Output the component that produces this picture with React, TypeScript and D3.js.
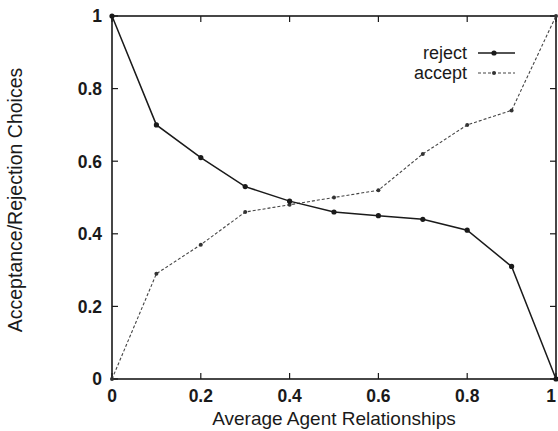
import { useEffect, useRef } from "react";
import * as d3 from "d3";

const xValues = [0, 0.1, 0.2, 0.3, 0.4, 0.5, 0.6, 0.7, 0.8, 0.9, 1];
const rejectValues = [1, 0.7, 0.61, 0.53, 0.49, 0.46, 0.45, 0.44, 0.41, 0.31, 0];
const acceptValues = [0, 0.29, 0.37, 0.46, 0.48, 0.5, 0.52, 0.62, 0.7, 0.74, 1];
const tickValues = [0, 0.2, 0.4, 0.6, 0.8, 1];
const tickLabels = ["0", "0.2", "0.4", "0.6", "0.8", "1"];

export default function App() {
    const ref = useRef<SVGSVGElement | null>(null);

    useEffect(() => {
        if (!ref.current) return;
        const width = 558;
        const height = 431;
        const left = 112, right = 556, top = 16, bottom = 379;

        const svg = d3.select(ref.current);
        svg.selectAll("*").remove();
        svg.attr("width", width).attr("height", height)
            .style("font-family", "'Liberation Sans', Arial, sans-serif");

        svg.append("rect").attr("width", width).attr("height", height).attr("fill", "#fff");

        const x = d3.scaleLinear().domain([0, 1]).range([left, right]);
        const y = d3.scaleLinear().domain([0, 1]).range([bottom, top]);
        const ink = "#1a1a1a";

        // frame
        svg.append("rect")
            .attr("x", left).attr("y", top)
            .attr("width", right - left).attr("height", bottom - top)
            .attr("fill", "none").attr("stroke", ink).attr("stroke-width", 1.6);

        // inward ticks on all four sides
        const tickLen = 6;
        tickValues.forEach((t) => {
            svg.append("line").attr("x1", x(t)).attr("x2", x(t)).attr("y1", bottom).attr("y2", bottom - tickLen)
                .attr("stroke", ink).attr("stroke-width", 1.2);
            svg.append("line").attr("x1", x(t)).attr("x2", x(t)).attr("y1", top).attr("y2", top + tickLen)
                .attr("stroke", ink).attr("stroke-width", 1.2);
            svg.append("line").attr("y1", y(t)).attr("y2", y(t)).attr("x1", left).attr("x2", left + tickLen)
                .attr("stroke", ink).attr("stroke-width", 1.2);
            svg.append("line").attr("y1", y(t)).attr("y2", y(t)).attr("x1", right).attr("x2", right - tickLen)
                .attr("stroke", ink).attr("stroke-width", 1.2);
        });

        // tick labels
        svg.append("g").selectAll("text").data(tickValues).enter().append("text")
            .attr("x", (d) => Math.min(x(d), right - 5)).attr("y", bottom + 23)
            .attr("text-anchor", "middle").attr("font-size", 17.5).attr("font-weight", "bold").attr("fill", ink)
            .text((d, i) => tickLabels[i]);
        svg.append("g").selectAll("text").data(tickValues).enter().append("text")
            .attr("x", left - 10).attr("y", (d) => y(d)).attr("dy", "0.36em")
            .attr("text-anchor", "end").attr("font-size", 17.5).attr("font-weight", "bold").attr("fill", ink)
            .text((d, i) => tickLabels[i]);

        // axis titles
        svg.append("text").attr("x", 334).attr("y", 425)
            .attr("text-anchor", "middle").attr("font-size", 19).attr("fill", ink)
            .text("Average Agent Relationships");
        svg.append("text")
            .attr("transform", `translate(22, 200) rotate(-90)`)
            .attr("text-anchor", "middle").attr("font-size", 19.5).attr("fill", ink)
            .text("Acceptance/Rejection Choices");

        const line = d3.line<number>().x((d, i) => x(xValues[i])).y((d) => y(d));

        // accept (dashed)
        svg.append("path").datum(acceptValues).attr("d", line)
            .attr("fill", "none").attr("stroke", "#444").attr("stroke-width", 1.1).attr("stroke-dasharray", "3,2");
        svg.append("g").selectAll("circle").data(acceptValues).enter().append("circle")
            .attr("cx", (d, i) => x(xValues[i])).attr("cy", (d) => y(d)).attr("r", 2).attr("fill", "#333");

        // reject (solid)
        svg.append("path").datum(rejectValues).attr("d", line)
            .attr("fill", "none").attr("stroke", ink).attr("stroke-width", 1.5);
        svg.append("g").selectAll("circle").data(rejectValues).enter().append("circle")
            .attr("cx", (d, i) => x(xValues[i])).attr("cy", (d) => y(d)).attr("r", 2.6).attr("fill", ink);

        // legend
        const legend = svg.append("g");
        legend.append("text").attr("x", 467).attr("y", 53).attr("dy", "0.35em")
            .attr("text-anchor", "end").attr("font-size", 18).attr("fill", ink).text("reject");
        legend.append("line").attr("x1", 478).attr("x2", 515).attr("y1", 53).attr("y2", 53)
            .attr("stroke", ink).attr("stroke-width", 1.5);
        legend.append("circle").attr("cx", 494).attr("cy", 53).attr("r", 2.6).attr("fill", ink);
        legend.append("text").attr("x", 467).attr("y", 73).attr("dy", "0.35em")
            .attr("text-anchor", "end").attr("font-size", 18).attr("fill", ink).text("accept");
        legend.append("line").attr("x1", 478).attr("x2", 515).attr("y1", 73).attr("y2", 73)
            .attr("stroke", "#444").attr("stroke-width", 1.1).attr("stroke-dasharray", "3,2");
        legend.append("circle").attr("cx", 494).attr("cy", 73).attr("r", 2).attr("fill", "#333");
    }, []);

    return <svg ref={ref} style={{ position: "absolute", left: 0, top: 0 }}></svg>;
}
